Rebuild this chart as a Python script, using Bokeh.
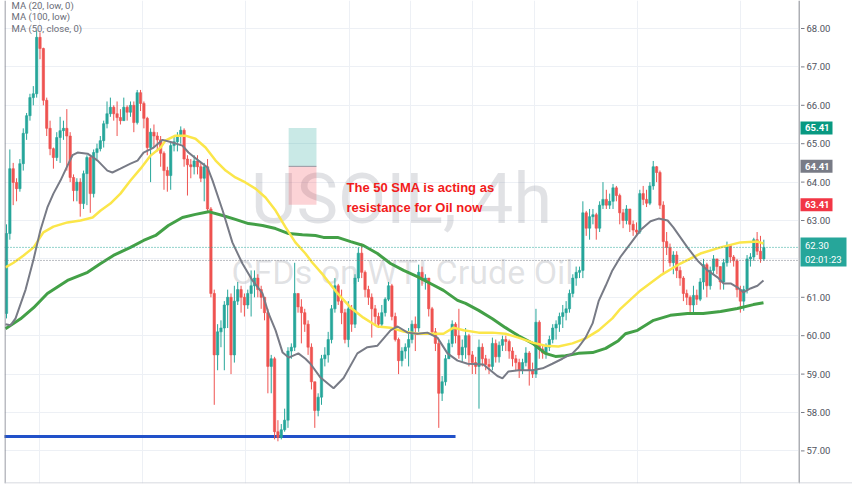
from bokeh.plotting import figure
from bokeh.layouts import row
from bokeh.models import Range1d, FixedTicker, Span, Label, Grid, ColumnDataSource
from bokeh.core.properties import value
from bokeh.embed import file_html
from bokeh.resources import INLINE

# ---------------- data (USOIL, 4h candles) ----------------
first_open = 60.58
closes = [
    62.66, 64.35, 63.99, 63.83, 64.48, 65.27, 65.73, 66.20, 66.30, 67.77,
    67.48, 66.13, 65.40, 64.87, 64.64, 65.16, 65.34, 65.40, 65.20, 64.12,
    63.78, 64.00, 63.44, 64.22, 64.64, 63.70, 64.77, 64.87, 65.08, 65.52,
    65.78, 65.95, 65.78, 65.68, 65.60, 65.95, 65.82, 66.00, 65.55, 66.33,
    66.05, 65.66, 64.90, 65.30, 65.20, 65.10, 64.75, 64.30, 64.17, 64.95,
    65.05, 65.20, 65.35, 64.60, 64.45, 64.40, 64.55, 64.40, 64.10, 64.40,
    63.30, 61.10, 59.50, 60.10, 60.20, 60.80, 61.00, 59.50, 60.90, 61.20,
    61.00, 60.80, 61.10, 61.30, 61.50, 61.20, 61.00, 60.60, 59.20, 59.40,
    57.50, 57.35, 57.55, 57.80, 59.60, 59.70, 61.10, 60.75, 60.60, 60.30,
    59.70, 58.80, 58.05, 58.40, 59.40, 59.50, 59.90, 60.70, 61.30, 60.90,
    60.60, 59.90, 60.70, 60.30, 61.50, 62.15, 61.65, 61.20, 61.00, 60.70,
    60.50, 60.30, 60.60, 60.95, 61.30, 60.50, 59.90, 59.35, 59.60, 59.70,
    59.90, 60.30, 60.20, 61.65, 61.45, 61.50, 60.70, 60.10, 59.80, 58.50,
    58.80, 59.40, 59.80, 60.30, 60.00, 59.50, 59.70, 60.00, 59.50, 59.30,
    59.20, 59.70, 59.40, 59.25, 59.20, 59.80, 59.45, 59.75, 59.90, 59.85,
    59.60, 59.40, 59.30, 59.10, 59.30, 59.55, 59.10, 59.00, 60.35, 59.65,
    59.55, 59.70, 59.90, 60.20, 60.30, 60.50, 60.60, 60.70, 61.10, 61.50,
    61.65, 61.70, 63.20, 62.80, 63.10, 63.15, 62.80, 63.40, 63.55, 63.40,
    63.50, 63.85, 63.65, 63.20, 63.00, 63.30, 62.90, 62.75, 62.70, 63.70,
    63.55, 63.45, 63.90, 64.40, 64.25, 63.40, 62.45, 62.30, 61.90, 62.10,
    61.70, 61.50, 61.10, 61.00, 60.80, 61.05, 60.95, 61.40, 61.85, 61.30,
    61.70, 62.00, 61.80, 61.40, 61.90, 62.35, 62.05, 61.95, 61.20, 60.90,
    61.20, 62.00, 62.05, 62.50, 62.20, 62.00, 62.30]
highs = [
    62.90, 64.85, 64.50, 64.10, 64.60, 65.40, 65.80, 66.30, 66.50, 67.95,
    67.90, 67.50, 66.20, 65.60, 64.90, 65.30, 65.70, 65.60, 65.90, 65.30,
    64.20, 64.10, 64.10, 64.30, 64.70, 64.70, 64.85, 65.00, 65.20, 65.60,
    66.10, 66.20, 66.00, 66.10, 65.90, 66.20, 66.00, 66.10, 66.10, 66.40,
    66.40, 66.10, 65.70, 65.40, 65.50, 65.30, 65.20, 64.80, 64.40, 65.05,
    65.20, 65.30, 65.45, 65.40, 64.70, 64.60, 64.70, 64.70, 64.50, 64.50,
    64.60, 63.35, 61.20, 60.30, 60.40, 60.90, 61.20, 61.10, 61.30, 61.40,
    61.30, 61.10, 61.20, 61.70, 61.70, 61.60, 61.30, 61.00, 60.70, 59.50,
    59.45, 57.80, 57.70, 58.10, 59.70, 59.80, 61.90, 61.10, 60.95, 60.70,
    60.40, 59.80, 58.80, 58.50, 59.50, 59.70, 60.10, 60.80, 61.50, 61.35,
    61.20, 60.70, 60.90, 60.80, 61.60, 62.30, 62.40, 61.70, 61.30, 61.10,
    60.80, 60.60, 60.80, 61.00, 61.40, 61.35, 60.60, 59.95, 59.70, 59.80,
    60.20, 60.40, 60.50, 61.85, 61.80, 61.60, 61.50, 60.75, 60.20, 59.90,
    58.95, 59.50, 59.90, 60.40, 60.35, 60.70, 59.90, 60.20, 60.05, 59.60,
    59.45, 59.90, 59.80, 59.50, 59.40, 59.95, 59.90, 59.85, 60.00, 60.00,
    59.90, 59.70, 59.50, 59.40, 59.40, 59.70, 59.60, 59.30, 60.70, 60.40,
    59.75, 59.80, 60.00, 60.30, 60.40, 60.60, 60.80, 60.90, 61.20, 61.60,
    61.80, 61.80, 63.50, 63.25, 63.30, 63.30, 63.20, 63.50, 64.00, 63.80,
    63.70, 63.95, 63.90, 63.70, 63.30, 63.40, 63.30, 63.00, 62.95, 63.80,
    63.90, 63.80, 64.00, 64.55, 64.42, 64.30, 63.50, 62.70, 62.40, 62.20,
    62.20, 61.80, 61.55, 61.20, 61.05, 61.30, 61.20, 61.50, 62.00, 61.90,
    61.80, 62.10, 62.00, 61.80, 62.00, 62.45, 62.35, 62.10, 62.00, 61.30,
    61.30, 62.10, 62.15, 62.55, 62.70, 62.60, 62.50]
lows = [
    60.45, 62.50, 63.40, 63.50, 63.75, 64.30, 65.10, 65.60, 66.00, 66.20,
    67.20, 66.00, 65.20, 64.70, 64.35, 64.55, 64.50, 65.10, 64.30, 64.00,
    63.50, 63.50, 63.10, 63.30, 63.40, 63.20, 63.60, 64.60, 64.80, 64.90,
    65.40, 65.70, 65.60, 65.20, 65.50, 65.60, 65.60, 65.70, 65.30, 65.50,
    65.85, 65.40, 64.70, 64.00, 64.90, 64.80, 64.40, 63.80, 63.75, 63.80,
    64.80, 64.80, 65.00, 64.40, 63.65, 64.10, 64.20, 64.20, 64.00, 63.50,
    63.20, 61.00, 58.20, 59.10, 59.70, 59.10, 60.20, 59.00, 59.30, 60.80,
    60.60, 60.50, 60.70, 60.50, 61.00, 61.00, 60.70, 60.40, 58.50, 58.50,
    57.30, 57.25, 57.30, 57.50, 57.60, 59.40, 59.60, 60.60, 59.80, 60.10,
    59.50, 58.60, 57.60, 57.90, 58.20, 59.20, 59.30, 59.80, 60.60, 60.80,
    60.30, 59.80, 59.70, 60.10, 60.20, 61.40, 61.50, 61.00, 60.80, 59.95,
    60.30, 60.20, 60.20, 60.50, 60.90, 60.40, 59.85, 59.00, 59.20, 59.40,
    59.20, 59.80, 59.60, 60.10, 61.30, 61.20, 60.50, 60.00, 59.60, 57.60,
    58.30, 58.70, 59.40, 59.70, 59.80, 59.40, 59.30, 59.40, 59.20, 59.00,
    59.00, 58.10, 59.20, 59.10, 59.00, 59.10, 59.30, 59.30, 59.60, 59.60,
    59.40, 59.20, 59.10, 58.90, 59.00, 59.20, 58.70, 58.90, 58.90, 59.40,
    59.40, 59.40, 59.60, 59.80, 59.90, 60.10, 60.20, 60.40, 60.60, 61.00,
    61.30, 61.50, 61.50, 62.60, 62.50, 62.90, 62.50, 62.70, 63.30, 63.30,
    63.30, 63.30, 63.50, 62.90, 62.80, 62.90, 62.70, 62.60, 62.60, 62.65,
    63.40, 63.35, 63.40, 63.80, 64.00, 63.30, 61.60, 62.10, 61.80, 61.60,
    61.50, 61.30, 60.90, 60.80, 60.60, 60.60, 60.80, 60.90, 61.20, 61.00,
    61.20, 61.60, 61.60, 61.20, 61.20, 61.80, 61.90, 61.80, 61.00, 60.60,
    60.65, 61.10, 61.80, 61.95, 62.10, 61.90, 61.95]

# moving averages, read at candle-index positions
ma20_x = [-0.3, 1.2, 2.7, 5.7, 8.1, 10.1, 12.2, 14.0, 16.1, 18.2, 19.7, 21.2, 24.2,
          27.2, 30.1, 31.6, 34.0, 37.0, 39.1, 40.9, 43.9, 46.6, 49.5, 52.5, 54.3,
          57.3, 60.0, 61.5, 64.5, 67.4, 70.4, 73.4, 76.4, 78.2, 80.3, 82.4, 84.2,
          87.1, 89.2, 90.7, 93.7, 97.6, 100.6, 104.7, 107.7, 110.7, 114.6, 116.7,
          119.7, 122.6, 125.6, 128.6, 131.6, 134.6, 137.6, 142.3, 146.5, 148.0,
          149.8, 152.8, 157.0, 160.0, 162.9, 165.9, 168.9, 170.7, 172.8, 174.9,
          176.7, 178.8, 180.8, 183.2, 186.2, 189.2, 192.2, 194.6, 197.3, 199.0,
          201.1, 203.2, 206.2, 209.2, 212.2, 214.0, 216.1, 218.1, 219.9, 222.0,
          224.1, 225.9]
ma20_y = [60.30, 60.27, 60.45, 61.20, 62.00, 62.74, 63.34, 63.70, 64.04, 64.43, 64.70,
          64.77, 64.74, 64.56, 64.30, 64.25, 64.35, 64.48, 64.56, 64.77, 64.90, 65.10,
          65.03, 64.95, 64.77, 64.56, 64.38, 64.04, 63.26, 62.43, 61.88, 61.44, 61.10,
          60.58, 60.14, 59.56, 59.43, 59.54, 59.40, 59.27, 58.91, 58.63, 58.90, 59.54,
          59.70, 59.74, 60.14, 60.24, 60.08, 60.05, 60.08, 59.95, 59.54, 59.35, 59.27,
          59.25, 58.95, 58.89, 59.07, 59.10, 59.10, 59.15, 59.27, 59.40, 59.54, 59.70,
          59.95, 60.32, 60.90, 61.30, 61.70, 62.05, 62.40, 62.75, 62.98, 63.05, 63.00,
          62.82, 62.56, 62.30, 61.96, 61.70, 61.52, 61.36, 61.36, 61.26, 61.13, 61.23,
          61.30, 61.44]
ma50_x = [-0.3, 2.1, 5.1, 8.1, 11.0, 14.0, 18.2, 22.1, 25.7, 28.1, 31.0, 34.0, 37.0,
          40.0, 43.0, 46.0, 47.4, 50.4, 53.4, 56.4, 59.4, 62.4, 65.4, 68.3, 71.3,
          74.3, 77.3, 80.3, 83.3, 86.2, 89.2, 91.3, 94.6, 98.8, 102.7, 106.5, 110.7,
          114.6, 118.5, 122.6, 126.5, 130.4, 133.4, 136.4, 140.9, 145.0, 148.9, 152.8,
          157.0, 160.8, 164.7, 168.9, 172.8, 176.7, 180.8, 183.2, 189.2, 195.2, 201.1,
          207.1, 213.1, 219.0, 224.1, 225.9]
ma50_y = [61.78, 61.90, 62.09, 62.30, 62.69, 62.84, 62.95, 63.00, 63.08, 63.26, 63.44,
          63.70, 64.04, 64.35, 64.69, 64.90, 65.08, 65.21, 65.21, 65.13, 64.90, 64.56,
          64.30, 64.12, 63.99, 63.83, 63.60, 63.26, 62.82, 62.43, 62.14, 61.90, 61.57,
          61.10, 60.73, 60.47, 60.24, 60.21, 60.11, 60.05, 60.05, 60.05, 60.21, 60.14,
          60.08, 60.08, 60.05, 59.95, 59.82, 59.74, 59.72, 59.80, 59.93, 60.14, 60.45,
          60.70, 61.18, 61.57, 61.88, 62.14, 62.30, 62.43, 62.45, 62.40]
ma100_x = [-0.3, 4.2, 8.1, 12.2, 18.2, 24.2, 28.1, 31.9, 37.0, 40.9, 44.5, 48.3, 52.5,
           56.4, 60.3, 64.5, 68.3, 72.2, 76.4, 80.3, 84.2, 88.3, 92.2, 94.6, 98.8,
           102.7, 106.5, 110.7, 114.6, 118.5, 122.6, 126.5, 130.4, 134.6, 137.0, 140.9,
           145.0, 148.9, 152.8, 157.0, 160.8, 163.8, 166.8, 170.7, 174.9, 178.8, 182.6,
           184.7, 188.3, 193.1, 198.1, 203.2, 207.9, 213.1, 218.1, 222.9, 225.9]
ma100_y = [60.18, 60.44, 60.73, 61.10, 61.44, 61.65, 61.88, 62.09, 62.30, 62.48, 62.61,
           62.87, 63.08, 63.16, 63.23, 63.13, 63.03, 62.92, 62.87, 62.79, 62.66, 62.63,
           62.61, 62.56, 62.56, 62.45, 62.35, 62.14, 61.88, 61.70, 61.54, 61.36, 61.18,
           60.92, 60.84, 60.66, 60.44, 60.21, 60.00, 59.80, 59.54, 59.46, 59.48, 59.54,
           59.56, 59.67, 59.87, 60.05, 60.14, 60.40, 60.53, 60.58, 60.58, 60.63, 60.71,
           60.81, 60.86]

support_level = 57.375
support_end = 134.0
pos_left, pos_right = 84.2, 92.5
pos_target, pos_entry, pos_stop = 65.41, 64.41, 63.41
last_price = 62.30
countdown = "02:01:23"
prev_close_line = 61.96
price_ticks = [57, 58, 59, 60, 61, 62, 63, 64, 65, 66, 67, 68]
day_ticks = [9.85, 40.6, 71.3, 102.4, 120.6, 139.1, 157.6, 188.3, 219.0]

# ---------------- build ----------------
n = min(len(closes), len(highs), len(lows))
closes, highs, lows = closes[:n], highs[:n], lows[:n]
opens = [first_open] + closes[:n - 1]
UP, DN = "#26a69a", "#ef5350"
colors = [UP if c >= o else DN for o, c in zip(opens, closes)]
src = ColumnDataSource(dict(
    x=list(range(n)), h=highs, l=lows,
    top=[max(o, c) for o, c in zip(opens, closes)],
    bottom=[min(o, c) for o, c in zip(opens, closes)],
    color=colors))

H = 485
MAIN_W, AX_W = 798, 54
STEP = 3.351            # pixels per candle
PX_PER_UNIT = 38.4      # pixels per 1.00 of price


def px(x):              # page x -> candle index
    return (x - 6) / STEP


def py(y):              # page y -> price
    return 68 - (y - 28) / PX_PER_UNIT


yr = Range1d(py(483), py(0))
GRID = "#edf0f5"
FONT = "Roboto"

p = figure(width=MAIN_W, height=H, x_range=Range1d(px(4), px(798)), y_range=yr,
           output_backend="svg", toolbar_location=None, title=None,
           x_axis_location=None, y_axis_location=None,
           min_border_left=4, min_border_top=0, min_border_bottom=2, min_border_right=0)
p.background_fill_color = "white"
p.border_fill_color = "white"
p.outline_line_color = None
p.xgrid.visible = False
p.ygrid.visible = False
p.add_layout(Grid(dimension=0, ticker=FixedTicker(ticks=day_ticks), grid_line_color=GRID))
p.add_layout(Grid(dimension=1, ticker=FixedTicker(ticks=price_ticks), grid_line_color=GRID))

# watermark
p.add_layout(Label(x=px(401), y=py(198), text="USOIL, 4h", text_align="center",
                   text_baseline="middle", text_font=FONT, text_font_size="70px",
                   text_color="#9598a1", text_alpha=0.28, level="underlay"))
p.add_layout(Label(x=px(402), y=py(271), text="CFDs on WTI Crude Oil", text_align="center",
                   text_baseline="middle", text_font=FONT, text_font_size="34px",
                   text_color="#9598a1", text_alpha=0.28, level="underlay"))

# pane borders
p.add_layout(Span(location=px(4.5), dimension="height", line_color="#787b86", line_width=1))
p.add_layout(Span(location=py(482.5), dimension="width", line_color="#c9ccd4", line_width=1))

# position tool
p.quad(left=[pos_left], right=[pos_right], bottom=[pos_entry], top=[pos_target],
       fill_color=UP, fill_alpha=0.25, line_color=None)
p.quad(left=[pos_left], right=[pos_right], bottom=[pos_stop], top=[pos_entry],
       fill_color="#f23645", fill_alpha=0.22, line_color=None)
p.segment(x0=[pos_left], y0=[pos_entry], x1=[pos_right], y1=[pos_entry],
          line_color="#9598a1", line_width=1)

# support line
p.segment(x0=[-2], y0=[support_level], x1=[support_end], y1=[support_level],
          line_color="#2151c9", line_width=3)

# candles
p.segment(x0="x", y0="l", x1="x", y1="h", line_color="color", line_width=1, source=src)
p.vbar(x="x", width=0.7, top="top", bottom="bottom", fill_color="color",
       line_color="color", line_width=0.6, source=src)

# moving averages
p.line(ma100_x, ma100_y, line_color="#43a047", line_width=3)
p.line(ma50_x, ma50_y, line_color="#fbe64a", line_width=2.5)
p.line(ma20_x, ma20_y, line_color="#787b86", line_width=2)

# price lines
p.add_layout(Span(location=last_price, dimension="width", line_color="#26a69a",
                  line_dash="1 2", line_width=1))
p.add_layout(Span(location=prev_close_line, dimension="width", line_color="#787b86",
                  line_dash="1 2", line_width=1))

# legend
for i, t in enumerate(["MA (20, low, 0)", "MA (100, low)", "MA (50, close, 0)"]):
    p.add_layout(Label(x=px(11), y=py(4.5 + 11.8 * i), text=t, text_baseline="middle",
                       text_font=FONT, text_font_size="9.5px", text_color="#6a6d78"))

# red annotation
for t, yy in [("The 50 SMA is acting as", 187), ("resistance for Oil now", 207)]:
    p.add_layout(Label(x=px(346), y=py(yy), text=t, text_baseline="middle",
                       text_font="Liberation Sans", text_font_style="bold",
                       text_font_size="13px", text_color="#f21b1b"))

# ---------------- price scale (right) ----------------
pa = figure(width=AX_W, height=H, x_range=Range1d(798, 852), y_range=yr,
            output_backend="svg", toolbar_location=None, title=None,
            x_axis_location=None, y_axis_location=None,
            min_border_left=0, min_border_top=0, min_border_bottom=2, min_border_right=0)
pa.background_fill_color = "white"
pa.border_fill_color = "white"
pa.outline_line_color = None
pa.xgrid.visible = False
pa.ygrid.visible = False
pa.add_layout(Span(location=798.5, dimension="height", line_color="#5d606b", line_width=1))
pa.add_layout(Span(location=py(482.5), dimension="width", line_color="#c9ccd4", line_width=1))

pa.segment(x0=[800.5] * len(price_ticks), y0=price_ticks, x1=[804] * len(price_ticks),
           y1=price_ticks, line_color="#787b86", line_width=1)
pa.text(x=[806] * len(price_ticks), y=price_ticks, text=[f"{v:.2f}" for v in price_ticks],
        text_baseline="middle", text_align="left", text_font=value(FONT),
        text_font_size="9.5px", text_color="#50535e")

tag_vals = [pos_target, pos_entry, pos_stop]
tag_cols = ["#089981", "#787b86", "#f23645"]
half = 6.5 / PX_PER_UNIT
pa.quad(left=[800] * 3, right=[832] * 3, bottom=[v - half for v in tag_vals],
        top=[v + half for v in tag_vals], fill_color=tag_cols, line_color=None)
pa.text(x=[804.5] * 3, y=tag_vals, text=[f"{v:.2f}" for v in tag_vals],
        text_baseline="middle", text_align="left", text_font=value(FONT),
        text_font_size="9.5px", text_font_style="bold", text_color="white")

pa.quad(left=[800], right=[846], bottom=[py(266)], top=[py(237)],
        fill_color="#26a69a", line_color=None)
pa.text(x=[804.5, 804.5], y=[py(244.5), py(258.5)], text=[f"{last_price:.2f}", countdown],
        text_baseline="middle", text_align="left", text_font=value(FONT),
        text_font_size="9.5px", text_color="white")

layout = row(p, pa, spacing=0)
open("out.html", "w").write(file_html(layout, INLINE))
